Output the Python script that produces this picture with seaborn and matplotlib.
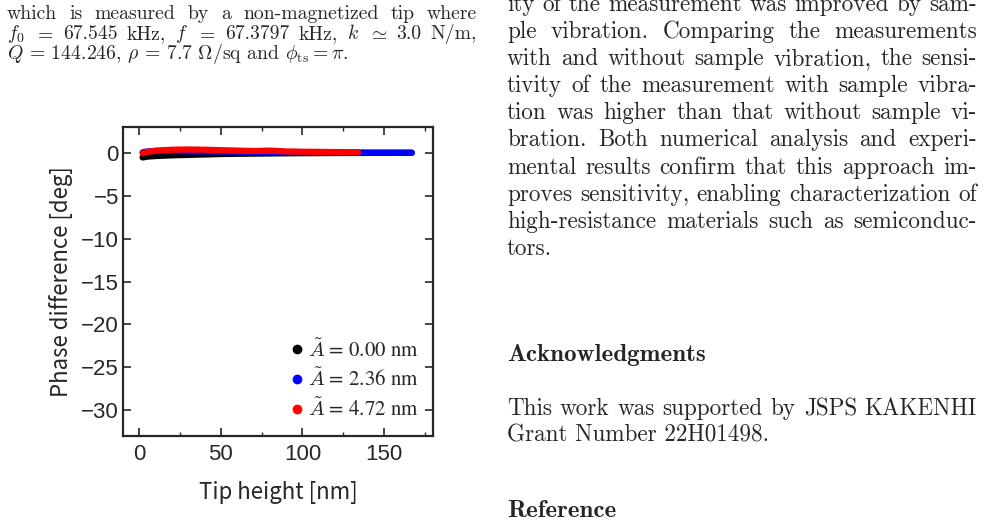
import matplotlib
matplotlib.use("Agg")
import matplotlib.pyplot as plt
from matplotlib.lines import Line2D
from matplotlib.ticker import MultipleLocator
import seaborn as sns
import pandas as pd

# Data (tip height in nm, phase difference in deg)
black_x = [2, 5, 10, 20, 30, 40, 50, 60, 80, 100, 120, 140, 167]
black_y = [-0.55, -0.45, -0.38, -0.3, -0.25, -0.2, -0.15, -0.12, -0.08, -0.05, -0.03, -0.02, 0.0]
blue_x = [2, 5, 10, 20, 40, 60, 80, 100, 120, 140, 167]
blue_y = [0.05, 0.15, 0.2, 0.2, 0.15, 0.12, 0.1, 0.05, 0.05, 0.02, 0.0]
red_x = [2, 5, 10, 20, 30, 40, 50, 60, 70, 80, 90, 100, 110, 120, 134]
red_y = [-0.05, 0.1, 0.25, 0.35, 0.38, 0.35, 0.3, 0.25, 0.2, 0.25, 0.15, 0.12, 0.1, 0.08, 0.05]
series_labels = [r"$\tilde{A}$ = 0.00 nm", r"$\tilde{A}$ = 2.36 nm", r"$\tilde{A}$ = 4.72 nm"]
series_colors = ["#000000", "#0000ff", "#ff0000"]
x_ticks = [0, 50, 100, 150]
y_ticks = [0, -5, -10, -15, -20, -25, -30]

caption_lines = [
    ["which", "is", "measured", "by", "a", "non-magnetized", "tip", "where"],
    ["$f_0$", "$=$", "67.545", "kHz,", "$f$", "$=$", "67.3797", "kHz,", "$k$", r"$\simeq$", "3.0", "N/m,"],
]
caption_last = r"$Q$ = 144.246, $\rho$ = 7.7 $\Omega$/sq and $\phi_{\mathrm{ts}} = \pi$."

body_lines = [
    "ity of the measurement was improved by sam-",
    "ple vibration.  Comparing the measurements",
    "with and without sample vibration, the sensi-",
    "tivity of the measurement with sample vibra-",
    "tion was higher than that without sample vi-",
    "bration.  Both numerical analysis and experi-",
    "mental results confirm that this approach im-",
    "proves sensitivity, enabling characterization of",
    "high-resistance materials such as semiconduc-",
]
body_last = "tors."
ack_lines = ["This work was supported by JSPS KAKENHI"]
ack_last = "Grant Number 22H01498."

df = pd.concat([
    pd.DataFrame({"x": black_x, "y": black_y, "s": series_labels[0]}),
    pd.DataFrame({"x": blue_x, "y": blue_y, "s": series_labels[1]}),
    pd.DataFrame({"x": red_x, "y": red_y, "s": series_labels[2]}),
])

sns.set_style("ticks")
plt.rcParams["mathtext.fontset"] = "cm"
W, H = 985, 525
fig = plt.figure(figsize=(W / 100, H / 100), dpi=100)
renderer = fig.canvas.get_renderer()


def justify(words, x0, x1, y, size, family="cmr10"):
    texts = [fig.text(0, 0, w, fontsize=size, family=family,
                      va="baseline", ha="left") for w in words]
    widths = [t.get_window_extent(renderer).width for t in texts]
    gap = (x1 - x0 - sum(widths)) / max(len(words) - 1, 1)
    x = x0
    for t, w in zip(texts, widths):
        t.set_position((x / W, 1 - y / H))
        x += w + gap


def plain(s, x0, y, size, family="cmr10"):
    fig.text(x0 / W, 1 - y / H, s, fontsize=size, family=family,
             va="baseline", ha="left")


# caption (left column)
cap_size = 14.2
for i, words in enumerate(caption_lines):
    justify(words, 7, 477, 19 + i * 20, cap_size)
plain(caption_last, 7, 59, cap_size)

# right column body text
body_size = 16.7
x0, x1 = 507, 977
for i, line in enumerate(body_lines):
    justify(line.split(), x0, x1, 11 + i * 27.1, body_size)
plain(body_last, x0, 11 + 9 * 27.1, body_size)
plain("Acknowledgments", x0, 361, 18, family="cmb10")
justify(ack_lines[0].split(), x0, x1, 415, body_size)
plain(ack_last, x0, 441, body_size)
plain("Reference", x0, 517, 18, family="cmb10")

# chart
ax = fig.add_axes([123 / W, 1 - 436 / H, 310 / W, 309 / H])
sns.lineplot(data=df, x="x", y="y", hue="s", hue_order=series_labels,
             palette=series_colors, linewidth=4.5, sort=False, legend=False, ax=ax)
ax.set_xlim(-10, 180)
ax.set_ylim(-33, 3)
ax.set_xticks(x_ticks)
ax.set_yticks(y_ticks)
ax.set_yticklabels([str(v).replace("-", "\u2212") for v in y_ticks])
ax.xaxis.set_minor_locator(MultipleLocator(25))
ax.tick_params(direction="in", top=True, right=True, length=6, width=1.2,
               labelsize=16)
ax.tick_params(axis="x", pad=6)
ax.tick_params(axis="y", pad=3)
ax.tick_params(which="minor", axis="x", direction="in", top=True, length=3, width=1)
for lab in ax.get_xticklabels() + ax.get_yticklabels():
    lab.set_family("Liberation Sans")
for sp in ax.spines.values():
    sp.set_linewidth(1.6)
ax.set_xlabel("Tip height [nm]", fontsize=16, family="Noto Sans CJK JP", labelpad=11)
ax.set_ylabel("Phase difference [deg]", fontsize=16, family="Noto Sans CJK JP", labelpad=6)

handles = [Line2D([], [], marker="o", ls="", color=c, markersize=6) for c in series_colors]
ax.legend(handles, series_labels, loc="lower right", frameon=False,
          handletextpad=0.1, borderaxespad=0.3, labelspacing=0.35,
          handlelength=0.8, prop={"family": "STIXGeneral", "size": 15})

fig.savefig("out.png", dpi=100)
